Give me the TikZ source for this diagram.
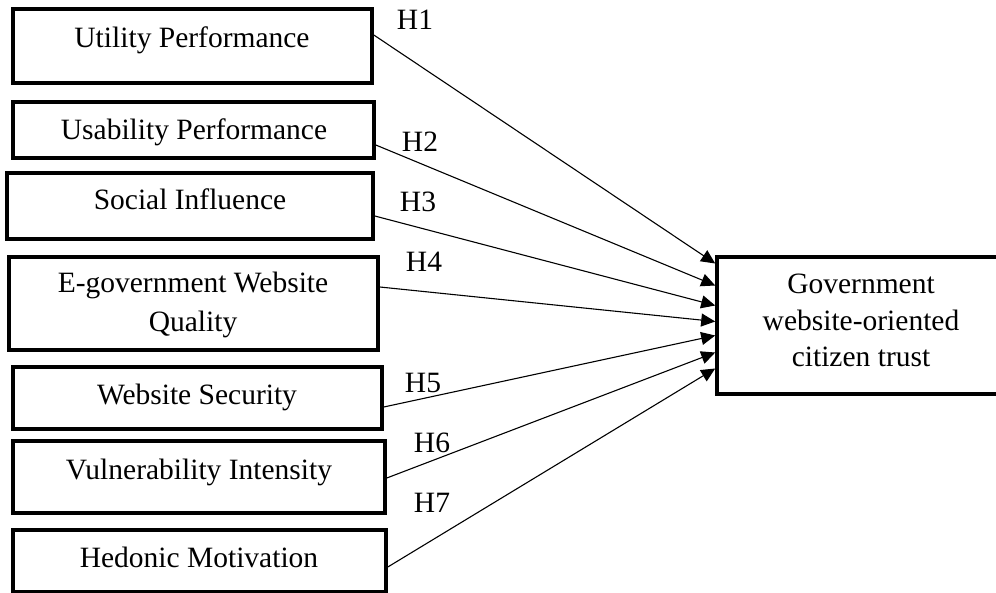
\documentclass[tikz,border=0pt]{standalone}
\usepackage{fontspec}
\setmainfont{Liberation Serif}
\usetikzlibrary{arrows.meta}
\tikzset{
  box/.style={draw=black, line width=3.6pt, rectangle, inner sep=0pt, fill=white},
  txt/.style={anchor=base, inner sep=0pt, font=\fontsize{29.5}{37.5}\selectfont},
  hyp/.style={anchor=base, inner sep=0pt, font=\fontsize{29.5}{37.5}\selectfont},
  arr/.style={line width=1.1pt, -{Triangle[length=14pt,width=13pt]}}
}
\begin{document}
\begin{tikzpicture}[x=1pt,y=-1pt]
\useasboundingbox (0,0) rectangle (996,593);
\clip (0,0) rectangle (996,593);
% boxes
\node[box, minimum width=359pt, minimum height=74pt] (b1) at (192.5,46) {};
\node[box, minimum width=361pt, minimum height=56pt] (b2) at (193.5,130) {};
\node[box, minimum width=366pt, minimum height=66pt] (b3) at (190,206) {};
\node[box, minimum width=369pt, minimum height=93pt] (b4) at (193.5,303.5) {};
\node[box, minimum width=369pt, minimum height=62pt] (b5) at (197.5,398) {};
\node[box, minimum width=372pt, minimum height=72pt] (b6) at (199,477) {};
\node[box, minimum width=373pt, minimum height=62pt] (b7) at (199.5,561) {};
\node[box, minimum width=290pt, minimum height=137pt] (t) at (862,325.5) {};
% texts
\node[txt] (l1) at (192,48) {Utility Performance};
\node[txt] (l2) at (194,140) {Usability Performance};
\node[txt] (l3) at (190,210) {Social Influence};
\node[txt] (l4a) at (193,293) {E-government Website};
\node[txt] (l4b) at (193,332) {Quality};
\node[txt] (l5) at (197,405) {Website Security};
\node[txt] (l6) at (199,479) {Vulnerability Intensity};
\node[txt] (l7) at (199,567) {Hedonic Motivation};
\node[txt] (lt1) at (861,294) {Government};
\node[txt] (lt2) at (861,331) {website-oriented};
\node[txt] (lt3) at (861,367) {citizen trust};
% hypothesis labels
\node[hyp] (h1) at (415,30) {H1};
\node[hyp] (h2) at (420,152) {H2};
\node[hyp] (h3) at (418,212) {H3};
\node[hyp] (h4) at (424,272) {H4};
\node[hyp] (h5) at (423,392) {H5};
\node[hyp] (h6) at (432,452) {H6};
\node[hyp] (h7) at (432,512) {H7};
% arrows
\draw[arr] ([yshift=11pt]b1.east) -- ([yshift=62pt]t.west);
\draw[arr] ([yshift=-15pt]b2.east) -- ([yshift=40pt]t.west);
\draw[arr] ([yshift=-10pt]b3.east) -- ([yshift=20pt]t.west);
\draw[arr] ([yshift=16.5pt]b4.east) -- ([yshift=4pt]t.west);
\draw[arr] ([yshift=-9pt]b5.east) -- ([yshift=-10pt]t.west);
\draw[arr] ([yshift=-1pt]b6.east) -- ([yshift=-27pt]t.west);
\draw[arr] ([yshift=-6pt]b7.east) -- ([yshift=-43pt]t.west);
\end{tikzpicture}
\end{document}
